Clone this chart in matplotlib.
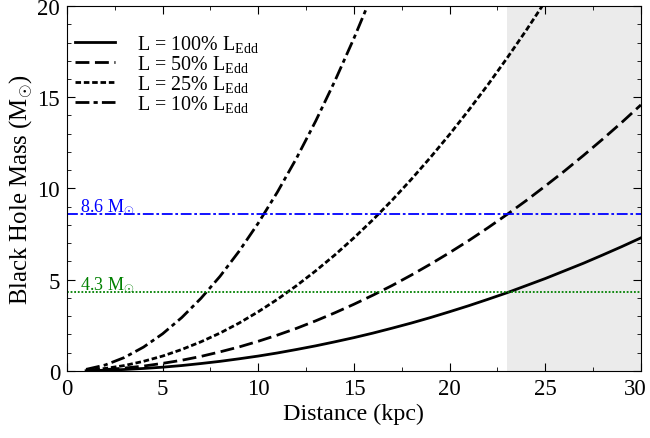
import matplotlib
matplotlib.use("Agg")
import matplotlib.pyplot as plt
import matplotlib.transforms as mtransforms
from matplotlib.ticker import MultipleLocator

plt.rcParams['font.family'] = ['Liberation Serif', 'DejaVu Serif']
plt.rcParams['mathtext.fontset'] = 'custom'
plt.rcParams['mathtext.rm'] = 'Liberation Serif'
plt.rcParams['mathtext.it'] = 'Liberation Serif:italic'

distance = list(range(1, 31))
mass_100 = [0.008, 0.032, 0.073, 0.13, 0.20, 0.29, 0.40, 0.52, 0.66, 0.81, 0.98, 1.17, 1.37, 1.59, 1.82,
            2.07, 2.34, 2.62, 2.92, 3.24, 3.57, 3.92, 4.28, 4.67, 5.06, 5.48, 5.90, 6.35, 6.81, 7.29]
mass_50 = [0.016, 0.065, 0.15, 0.26, 0.41, 0.58, 0.79, 1.04, 1.31, 1.62, 1.96, 2.33, 2.74, 3.18, 3.65,
           4.15, 4.68, 5.25, 5.85, 6.48, 7.14, 7.84, 8.57, 9.33, 10.13, 10.95, 11.81, 12.70, 13.62, 14.58]
mass_25 = [0.032, 0.13, 0.29, 0.52, 0.81, 1.17, 1.59, 2.07, 2.62, 3.24, 3.92, 4.67, 5.48, 6.35, 7.29,
           8.29, 9.36, 10.50, 11.70, 12.96, 14.29, 15.68, 17.14, 18.66, 20.25]
mass_10 = [0.08, 0.32, 0.73, 1.30, 2.03, 2.92, 3.97, 5.18, 6.56, 8.10, 9.80, 11.66, 13.69, 15.88, 18.23, 20.74]
labels = ["L = 100% L$_{\\rm Edd}$", "L = 50% L$_{\\rm Edd}$", "L = 25% L$_{\\rm Edd}$", "L = 10% L$_{\\rm Edd}$"]
mass_high = 8.6
mass_low = 4.3
shade_range = (23, 30)

fig = plt.figure(figsize=(6.5, 4.39), dpi=100)
ax = fig.add_axes([0.103, 0.153, 0.883, 0.831])

ax.axvspan(shade_range[0], shade_range[1], color='#ebebeb', lw=0, zorder=0)

lw = 2.0
ax.plot(distance, mass_100, color='black', lw=lw, ls='-', label=labels[0])
ax.plot(distance[:len(mass_50)], mass_50, color='black', lw=lw, ls=(0, (5, 2)), label=labels[1])
ax.plot(distance[:len(mass_25)], mass_25, color='black', lw=lw, ls=(0, (2, 1)), label=labels[2])
ax.plot(distance[:len(mass_10)], mass_10, color='black', lw=lw, ls=(0, (5, 1.5, 1.5, 1.5)), label=labels[3])

ax.axhline(mass_high, color='blue', lw=1.3, ls=(0, (6, 1.5, 1.5, 1.5)))
ax.axhline(mass_low, color='green', lw=1.3, ls=(0, (1, 1)))
ax.text(0.7, mass_high + 0.2, "8.6 M$_{\\odot}$", color='blue', fontsize=13)
ax.text(0.7, mass_low + 0.2, "4.3 M$_{\\odot}$", color='green', fontsize=13)

ax.set_xlim(0, 30)
ax.set_ylim(0, 20)
ax.xaxis.set_major_locator(MultipleLocator(5))
ax.xaxis.set_minor_locator(MultipleLocator(2.5))
ax.yaxis.set_major_locator(MultipleLocator(5))
ax.yaxis.set_minor_locator(MultipleLocator(1))
ax.tick_params(which='both', direction='in', top=True, right=True, labelsize=16.5)
ax.tick_params(which='major', length=6, pad=5)
ax.tick_params(which='minor', length=3)

ax.set_xlabel("Distance (kpc)", fontsize=17.3, labelpad=3)
ax.set_ylabel("Black Hole Mass (M$_{\\odot}$)", fontsize=17.8, labelpad=2)

leg = ax.legend(loc='upper left', bbox_to_anchor=(0.014, 0.927), frameon=False, fontsize=14.4,
                handlelength=2.0, handletextpad=1.1, labelspacing=-0.05,
                borderpad=0, borderaxespad=0)

fig.canvas.draw()
shift = mtransforms.ScaledTranslation(-6 / 100, 0, fig.dpi_scale_trans)
for t in ax.xaxis.get_major_ticks():
    if abs(t.get_loc() - 30) < 1e-9:
        t.label1.set_transform(t.label1.get_transform() + shift)

fig.savefig("out.png", dpi=100)
